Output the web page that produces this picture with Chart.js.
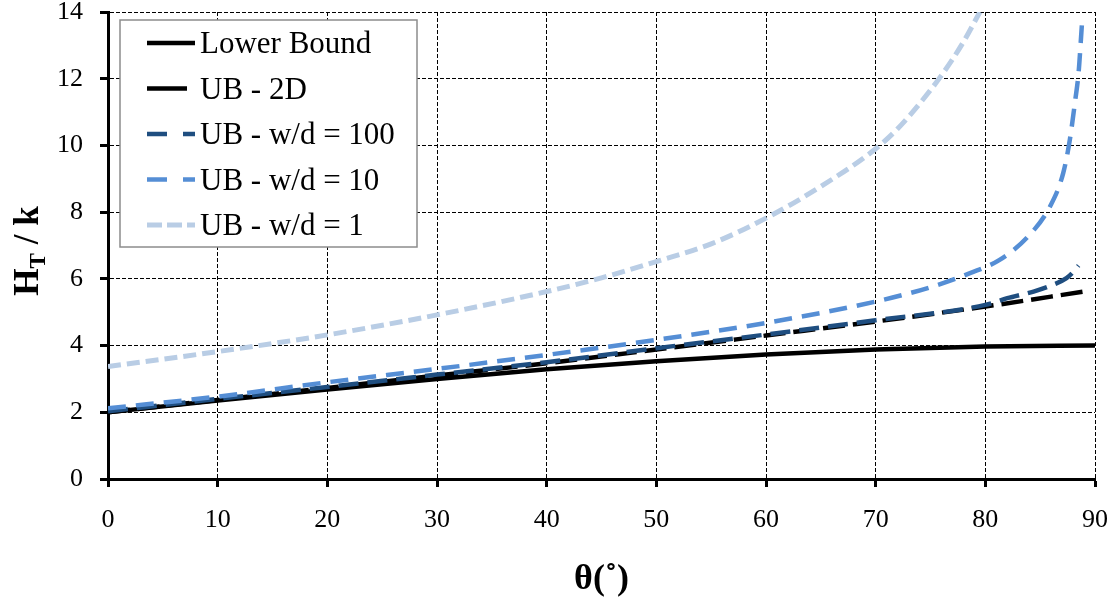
<!DOCTYPE html>
<html>
<head>
<meta charset="utf-8">
<script src="https://cdn.jsdelivr.net/npm/chart.js@4.4.1/dist/chart.umd.min.js"></script>
<style>
  body { margin: 0; background: #fff; }
  #wrap { width: 1120px; height: 603px; }
</style>
</head>
<body>
<div id="wrap"><canvas id="myChart"></canvas></div>
<script>
// angles (deg) and H_T/k values
let seriesNames = ['Lower Bound', 'UB - 2D', 'UB - w/d = 100', 'UB - w/d = 10', 'UB - w/d = 1'];

let lbAngle = [0, 10, 20, 30, 40, 50, 60, 70, 80, 90];
let lbValue = [2.0, 2.35, 2.68, 3.0, 3.29, 3.53, 3.73, 3.88, 3.97, 4.0];

let ub2dAngle = [0, 10, 20, 30, 40, 50, 60, 70, 80, 89];
let ub2dValue = [2.0, 2.37, 2.73, 3.1, 3.47, 3.88, 4.3, 4.72, 5.17, 5.62];

let w100Angle = [0, 10, 20, 30, 40, 50, 60, 70, 80, 82, 84.4, 86, 87.4, 88, 88.5];
let w100Value = [2.03, 2.4, 2.76, 3.13, 3.5, 3.92, 4.33, 4.76, 5.22, 5.42, 5.62, 5.8, 6.02, 6.2, 6.4];

let w10Angle = [0, 10, 20, 30, 40, 50, 60, 70, 75, 78.6, 81.3, 83.9, 85.9, 87.1, 87.7, 88.2, 88.5, 88.8];
let w10Value = [2.12, 2.47, 2.9, 3.3, 3.72, 4.17, 4.68, 5.32, 5.75, 6.17, 6.57, 7.27, 8.17, 9.17, 10.16, 11.36, 12.17, 13.6];

let w1Angle = [0, 10, 20, 30, 40, 45, 50, 55, 60, 65, 70, 72, 74, 76, 78, 79.5];
let w1Value = [3.37, 3.82, 4.32, 4.92, 5.62, 6.03, 6.52, 7.05, 7.82, 8.77, 9.9, 10.5, 11.25, 12.1, 13.1, 14.0];

let xTicks = [0, 10, 20, 30, 40, 50, 60, 70, 80, 90];
let yTicks = [0, 2, 4, 6, 8, 10, 12, 14];

let colors1 = ['#000000', '#000000', '#1F4E80', '#558ED5', '#B9CDE5'];
let widths1 = [4.5, 4.5, 4.5, 4.5, 5];
let dashes1 = [[], [22, 8], [20, 9], [18, 10], [13, 6]];
let legendDashes = [[], [40, 100], [20, 16], [20, 16], [15, 5]];

const serif = "'Liberation Serif', 'Times New Roman', serif";

function pts(xs, ys) {
    return xs.map((x, i) => ({ x: x, y: ys[i] }));
}

let allData = [
    pts(lbAngle, lbValue),
    pts(ub2dAngle, ub2dValue),
    pts(w100Angle, w100Value),
    pts(w10Angle, w10Value),
    pts(w1Angle, w1Value)
];

let datasets = seriesNames.map((name, i) => ({
    label: name,
    data: allData[i],
    borderColor: colors1[i],
    borderWidth: widths1[i],
    borderDash: dashes1[i],
    pointRadius: 0,
    fill: false,
    cubicInterpolationMode: 'monotone',
    order: 4 - i
}));

// legend box drawn inside the plot, like the original
const insideLegend = {
    id: 'insideLegend',
    afterDraw(chart) {
        const ctx = chart.ctx;
        ctx.save();
        ctx.fillStyle = '#fff';
        ctx.fillRect(120, 20, 297, 227);
        ctx.strokeStyle = '#8c8c8c';
        ctx.lineWidth = 1.5;
        ctx.strokeRect(120, 20, 297, 227);
        ctx.font = '31px ' + serif;
        ctx.textBaseline = 'middle';
        ctx.textAlign = 'left';
        chart.data.datasets.forEach((ds, i) => {
            const y = 43 + i * 45.5;
            ctx.strokeStyle = ds.borderColor;
            ctx.lineWidth = ds.borderWidth;
            ctx.setLineDash(legendDashes[i]);
            ctx.beginPath();
            ctx.moveTo(147, y);
            ctx.lineTo(i === 1 ? 187 : 195, y);
            ctx.stroke();
            ctx.setLineDash([]);
            ctx.fillStyle = '#000';
            ctx.fillText(ds.label, 200, y + 2);
        });
        ctx.restore();
    }
};

// y-axis title with subscript T
const yTitle = {
    id: 'yTitle',
    afterDraw(chart) {
        const ctx = chart.ctx;
        ctx.save();
        ctx.translate(26, 251);
        ctx.rotate(-Math.PI / 2);
        ctx.fillStyle = '#000';
        ctx.textBaseline = 'alphabetic';
        const big = 'bold 35px ' + serif;
        const small = 'bold 23px ' + serif;
        ctx.font = big;
        const wH = ctx.measureText('H').width;
        const wRest = ctx.measureText(' / k').width;
        ctx.font = small;
        const wT = ctx.measureText('T').width;
        let x = -(wH + wT + wRest) / 2;
        const base = 12;
        ctx.font = big;
        ctx.fillText('H', x, base);
        x += wH;
        ctx.font = small;
        ctx.fillText('T', x, base + 7);
        x += wT;
        ctx.font = big;
        ctx.fillText(' / k', x, base);
        ctx.restore();
    }
};

function noPad(s) {
    s.paddingTop = 0;
    s.paddingBottom = 0;
    s.paddingLeft = 0;
    s.paddingRight = 0;
}

let ctxChart = document.getElementById('myChart').getContext('2d');

let chart = new Chart(ctxChart, {
    type: 'line',
    data: { datasets: datasets },
    plugins: [insideLegend, yTitle],
    options: {
        responsive: true,
        maintainAspectRatio: false,
        animation: false,
        layout: { autoPadding: false, padding: { top: 12, right: 25, left: 0, bottom: 0 } },
        plugins: {
            legend: { display: false },
            tooltip: { enabled: false }
        },
        scales: {
            x: {
                type: 'linear',
                min: 0,
                max: 90,
                afterFit(s) { s.height = 124; noPad(s); },
                afterBuildTicks(s) { s.ticks = xTicks.map(v => ({ value: v })); },
                ticks: {
                    color: '#000',
                    font: { family: serif, size: 26 },
                    padding: 18,
                    maxRotation: 0
                },
                grid: {
                    color: '#000',
                    lineWidth: 1,
                    tickLength: 8,
                    tickWidth: 3,
                    tickColor: '#000',
                    tickBorderDash: []
                },
                border: { display: true, color: '#000', width: 3, dash: [4, 2] },
                title: {
                    display: true,
                    text: 'θ(˚)',
                    color: '#000',
                    font: { family: serif, size: 36, weight: 'bold' },
                    padding: { top: 0, bottom: 2 }
                }
            },
            y: {
                min: 0,
                max: 14,
                afterFit(s) { s.width = 108; noPad(s); },
                afterBuildTicks(s) { s.ticks = yTicks.map(v => ({ value: v })); },
                ticks: {
                    color: '#000',
                    font: { family: serif, size: 26 },
                    padding: 17
                },
                grid: {
                    color: '#000',
                    lineWidth: 1,
                    tickLength: 8,
                    tickWidth: 3,
                    tickColor: '#000',
                    tickBorderDash: []
                },
                border: { display: true, color: '#000', width: 3, dash: [4, 2] }
            }
        }
    }
});
</script>
</body>
</html>
